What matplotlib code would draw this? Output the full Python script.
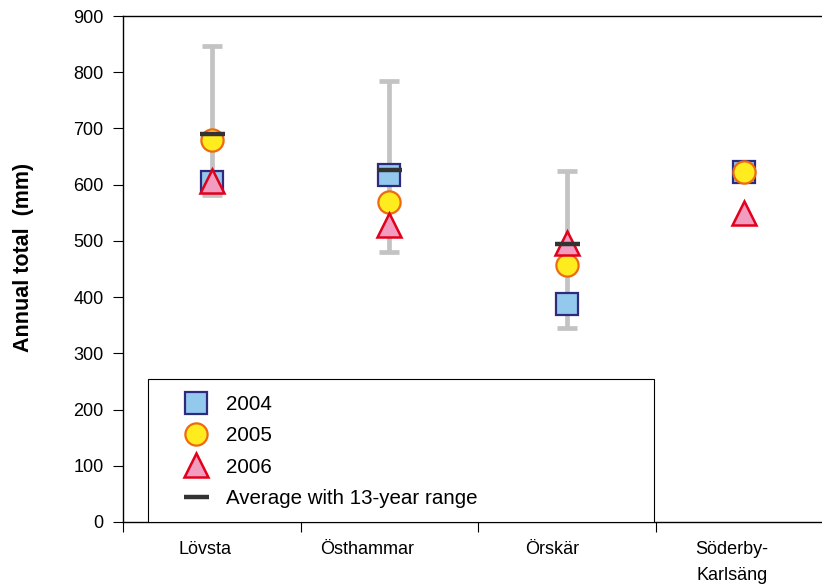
import numpy as np
import matplotlib
matplotlib.use("Agg")
import matplotlib.pyplot as plt
from matplotlib.lines import Line2D
from matplotlib.patches import Rectangle

plt.rcParams['font.family'] = ['Liberation Sans', 'DejaVu Sans']

stations = ["Lövsta", "Östhammar", "Örskär", "Söderby-\nKarlsäng"]
y2004 = [605, 618, 388, 622]
y2005 = [680, 569, 457, 622]
y2006 = [606, 529, 497, 550]
avg = [691, 626, 494, np.nan]
range_min = [582, 481, 345, np.nan]
range_max = [846, 784, 624, np.nan]
yticks = list(range(0, 1000, 100))

fig = plt.figure(figsize=(8.22, 5.84), dpi=100)
ax = fig.add_axes([123 / 822, 1 - 522 / 584, 699 / 822, 506 / 584])

x = np.arange(len(stations)) + 0.5
avg_a = np.array(avg, dtype=float)
lo = avg_a - np.array(range_min, dtype=float)
hi = np.array(range_max, dtype=float) - avg_a

ax.errorbar(x, avg_a, yerr=[lo, hi], fmt='none', ecolor='#c3c3c3',
            elinewidth=3.4, capsize=7.5, capthick=3.4, zorder=2)
ax.plot(x, y2004, ls='none', marker='s', ms=15.5, mfc='#93c9ec',
        mec='#2e2a7d', mew=1.6, zorder=3)
ax.plot(x, y2005, ls='none', marker='o', ms=16, mfc='#ffec1f',
        mec='#ee6a10', mew=1.6, zorder=4)
ax.plot(x, y2006, ls='none', marker='^', ms=17, mfc='#f29cc0',
        mec='#e3001b', mew=1.8, zorder=5)
ax.plot(x, avg_a, ls='none', marker='_', ms=18, mew=3.2, color='#333333',
        zorder=6)

ax.set_xlim(0, 699 / 177.5)
ax.set_ylim(0, 900)
ax.set_yticks(yticks)
ax.tick_params(axis='y', direction='out', length=7, width=0.8, labelsize=13,
               pad=7)
ax.set_xticks(np.arange(len(stations)))
ax.set_xticklabels([])
ax.tick_params(axis='x', which='major', direction='out', length=7, width=0.8)
# station names sit slightly left of the category centres
label_pos = x - np.array([0.04, 0.125, 0.083, 0.069])
ax.set_xticks(label_pos, minor=True)
ax.set_xticklabels(stations, minor=True, fontsize=13, linespacing=1.62)
ax.tick_params(axis='x', which='minor', length=0, pad=14)

ax.spines['right'].set_visible(False)
for s in ('left', 'top', 'bottom'):
    ax.spines[s].set_linewidth(1.0)

ax.set_ylabel("Annual total  (mm)", fontsize=15.5, fontweight='bold')
ax.yaxis.set_label_coords(-0.128, 0.5227)

# legend box
ax.add_patch(Rectangle((25 / 699, 0), 506 / 699, 143 / 506,
                       transform=ax.transAxes, fill=True, facecolor='white',
                       edgecolor='black', lw=0.8, zorder=7))
handles = [
    Line2D([], [], ls='none', marker='s', ms=15.5, mfc='#93c9ec', mec='#2e2a7d', mew=1.6),
    Line2D([], [], ls='none', marker='o', ms=16, mfc='#ffec1f', mec='#ee6a10', mew=1.6),
    Line2D([], [], ls='none', marker='^', ms=17, mfc='#f29cc0', mec='#e3001b', mew=1.8),
    Line2D([], [], ls='none', marker='_', ms=18, mew=3.2, color='#333333'),
]
labels = ["2004", "2005", "2006", "Average with 13-year range"]
leg = ax.legend(handles, labels, loc='upper left',
                bbox_to_anchor=(59 / 699, 127 / 506), frameon=False,
                fontsize=14.8, handlelength=1.37, handletextpad=0.78,
                labelspacing=0.6, borderaxespad=0, borderpad=0)
leg.set_zorder(8)

fig.savefig("out.png", dpi=100)
